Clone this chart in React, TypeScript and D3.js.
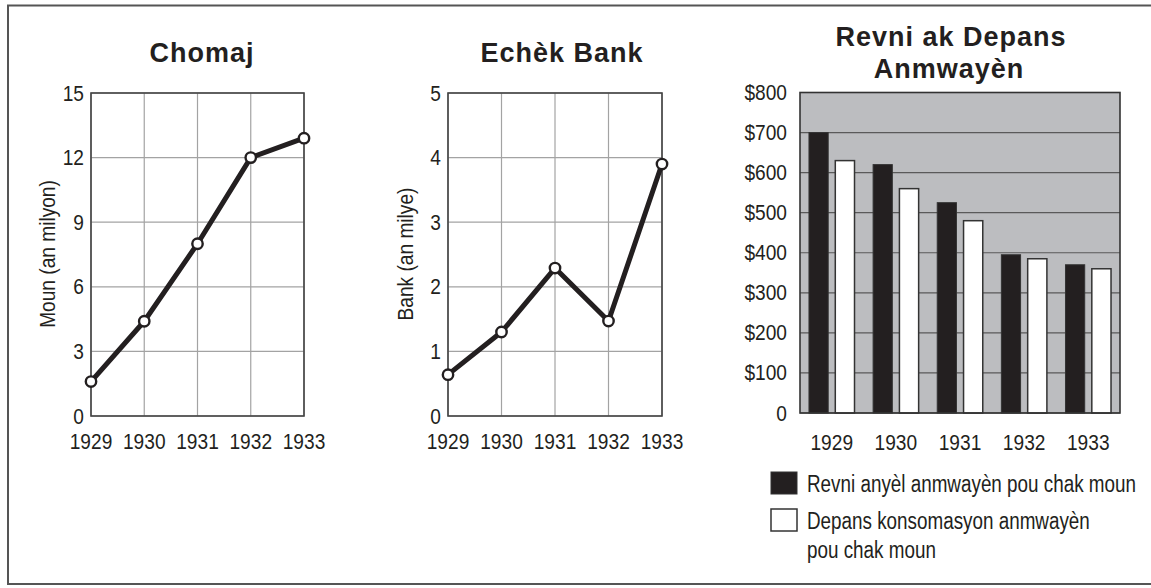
import React from 'react';
import * as d3 from 'd3';

const years = ['1929', '1930', '1931', '1932', '1933'];
const unemployment = [1.6, 4.4, 8.0, 12.0, 12.9];
const unemploymentTicks = [0, 3, 6, 9, 12, 15];
const bankFailures = [0.64, 1.3, 2.29, 1.47, 3.9];
const bankTicks = [0, 1, 2, 3, 4, 5];
const income = [700, 620, 525, 395, 370];
const spending = [630, 560, 480, 385, 360];
const moneyTicks = [0, 100, 200, 300, 400, 500, 600, 700, 800];
const seriesKeys = ['income', 'spending'];

const SANS = '"Liberation Sans", Arial, Helvetica, sans-serif';
const INK = '#231f20';

function NText({ x, y, anchor = 'start', size = 22.5, squeeze = 0.85, rotate = 0, children }) {
  return (
    <text
      transform={`translate(${x},${y}) rotate(${rotate}) scale(${squeeze},1)`}
      textAnchor={anchor}
      fontFamily={SANS}
      fontSize={size}
      fill={INK}
    >
      {children}
    </text>
  );
}

function LineChart({ title, titleX, values, ticks, yLabel, yLabelX, x0, x1 }) {
  const x = d3.scalePoint().domain(years).range([x0, x1]);
  const y = d3.scaleLinear().domain([ticks[0], ticks[ticks.length - 1]]).range([416, 93]);
  const line = d3.line<number>().x((_, i) => x(years[i]) as number).y(d => y(d));
  const pts = values.map((v, i) => ({ v, yr: years[i] }));
  return (
    <g>
      <text x={titleX} y={62} textAnchor="middle" fontFamily={SANS} fontWeight="bold" fontSize={27} letterSpacing={1} fill={INK}>{title}</text>
      {ticks.map(t => (
        <line key={'h' + t} x1={x0} x2={x1} y1={y(t)} y2={y(t)} stroke="#a3a3a3" strokeWidth={1.2} />
      ))}
      {years.map(yr => (
        <line key={'v' + yr} x1={x(yr)} x2={x(yr)} y1={y.range()[1]} y2={y.range()[0]} stroke="#a3a3a3" strokeWidth={1.2} />
      ))}
      <rect x={x0} y={93} width={x1 - x0} height={416 - 93} fill="none" stroke="#444" strokeWidth={1.6} />
      {ticks.map(t => (
        <NText key={'t' + t} x={x0 - 7} y={y(t) + 7.5} anchor="end">{String(t)}</NText>
      ))}
      {years.map(yr => (
        <NText key={'y' + yr} x={x(yr)} y={449} anchor="middle">{yr}</NText>
      ))}
      <NText x={yLabelX} y={254} anchor="middle" rotate={-90}>{yLabel}</NText>
      <path d={line(values) || ''} fill="none" stroke={INK} strokeWidth={5} strokeLinejoin="round" />
      {pts.map(p => (
        <circle key={'c' + p.yr} cx={x(p.yr)} cy={y(p.v)} r={5.2} fill="#fff" stroke={INK} strokeWidth={2.4} />
      ))}
    </g>
  );
}

function BarChart() {
  const x0 = d3.scaleBand().domain(years).range([800, 1120]).paddingInner(0.29).paddingOuter(0.14);
  const x1 = d3.scaleBand().domain(seriesKeys).range([0, x0.bandwidth()]).paddingInner(0.27);
  const y = d3.scaleLinear().domain([0, 800]).range([413, 92.5]);
  const rows = years.map((yr, i) => ({ yr, income: income[i], spending: spending[i] }));
  return (
    <g>
      <text x={951} y={46} textAnchor="middle" fontFamily={SANS} fontWeight="bold" fontSize={27} letterSpacing={1} fill={INK}>Revni ak Depans</text>
      <text x={949} y={78} textAnchor="middle" fontFamily={SANS} fontWeight="bold" fontSize={27} letterSpacing={1} fill={INK}>Anmwayèn</text>
      <rect x={800} y={y(800)} width={320} height={y(0) - y(800)} fill="#bcbdc0" />
      {moneyTicks.map(t => (
        <line key={'g' + t} x1={800} x2={1120} y1={y(t)} y2={y(t)} stroke="#5a5a5a" strokeWidth={1.2} />
      ))}
      {rows.map(r => (
        <g key={r.yr} transform={`translate(${x0(r.yr)},0)`}>
          <rect x={x1('income')} y={y(r.income)} width={x1.bandwidth()} height={y(0) - y(r.income)} fill={INK} stroke="#333" strokeWidth={1} />
          <rect x={x1('spending')} y={y(r.spending)} width={x1.bandwidth()} height={y(0) - y(r.spending)} fill="#fff" stroke="#333" strokeWidth={1.5} />
        </g>
      ))}
      <rect x={800} y={y(800)} width={320} height={y(0) - y(800)} fill="none" stroke="#333" strokeWidth={1.6} />
      {moneyTicks.map(t => (
        <NText key={'t' + t} x={787} y={y(t) + 7.5} anchor="end">{t === 0 ? '0' : `$${t}`}</NText>
      ))}
      {years.map(yr => (
        <NText key={'y' + yr} x={(x0(yr) as number) + x0.bandwidth() / 2} y={450} anchor="middle">{yr}</NText>
      ))}
      <rect x={771} y={472} width={26} height={22} fill={INK} stroke="#333" strokeWidth={1} />
      <NText x={807} y={492} size={23} squeeze={0.82}>Revni anyèl anmwayèn pou chak moun</NText>
      <rect x={771} y={509} width={26} height={22} fill="#fff" stroke="#333" strokeWidth={1.5} />
      <NText x={807} y={529} size={23} squeeze={0.82}>Depans konsomasyon anmwayèn</NText>
      <NText x={807} y={557.5} size={23} squeeze={0.82}>pou chak moun</NText>
    </g>
  );
}

export default function App() {
  return (
    <svg width={1151} height={588} style={{ position: 'absolute', left: 0, top: 0, background: '#fff' }}>
      <rect x={0} y={0} width={1151} height={588} fill="#fff" />
      <path d="M1151,5.5 H8 V584 H1151" fill="none" stroke="#555" strokeWidth={2} />
      <LineChart title="Chomaj" titleX={202} values={unemployment} ticks={unemploymentTicks} yLabel="Moun (an milyon)" yLabelX={55} x0={91} x1={304} />
      <LineChart title="Echèk Bank" titleX={562} values={bankFailures} ticks={bankTicks} yLabel="Bank (an milye)" yLabelX={413} x0={448} x1={662} />
      <BarChart />
    </svg>
  );
}
